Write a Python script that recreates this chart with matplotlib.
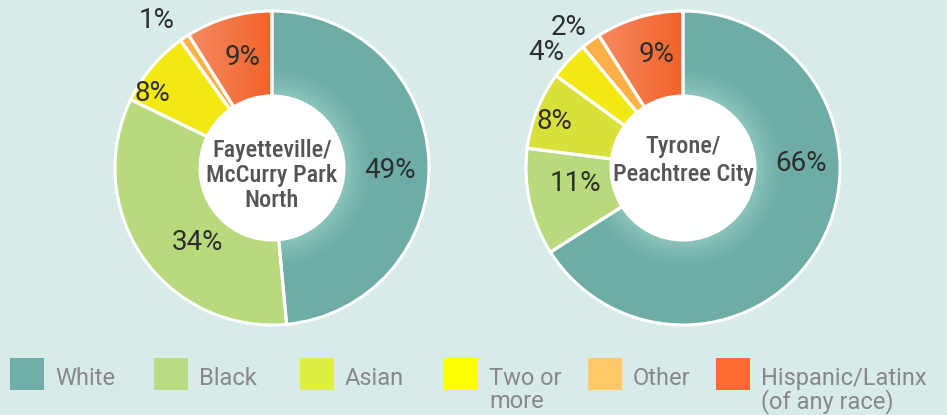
import numpy as np
import matplotlib
matplotlib.use("Agg")
import matplotlib.pyplot as plt
from matplotlib import font_manager
from matplotlib.patches import Circle, Wedge, Rectangle
from matplotlib.colors import to_rgb

# data
categories = ["White", "Black", "Asian", "Two or\nmore", "Other", "Hispanic/Latinx\n(of any race)"]
fayetteville = [49, 34, 0, 8, 1, 9]
tyrone = [66, 11, 8, 4, 2, 9]
titles = [["Fayetteville/", "McCurry Park", "North"], ["Tyrone/", "Peachtree City"]]

slice_colors = ["#6DADA5", "#B8D97C", "#D9E03A", "#F2E813", "#FDB045", "#F26B30"]
legend_colors = ["#6FAFA7", "#BADD83", "#DDEE44", "#FFFF00", "#FFC966", "#FF6B33"]
BG = "#D7EBE8"

# layout (pixels, y measured from top)
W, H = 947, 415
R, R_IN = 157, 72
centers = [(272, 168), (683, 168)]
# label placement: (angle in degrees, distance from centre in px)
label_pos = [
    [(-1, 118), (-135, 106), None, (148, 141), (128, 187), (105, 114)],
    [(2, 118), (-172, 109), (160, 137), (140, 179), (129, 181), (103, 116)],
]
title_baseline = [(157, 25), (153, 28)]

names = {f.name for f in font_manager.fontManager.ttflist}
def pick(*cands):
    for c in cands:
        if c in names:
            return c
    return "DejaVu Sans"

COND = pick("Liberation Sans Narrow", "Roboto Condensed", "DejaVu Sans Condensed", "DejaVu Sans")
MAIN = pick("Roboto", "Lato", "DejaVu Sans")

fig = plt.figure(figsize=(W / 100, H / 100), dpi=100)
fig.patch.set_facecolor(BG)
ax = fig.add_axes([0, 0, 1, 1])
ax.set_facecolor(BG)

for n, vals in enumerate([fayetteville, tyrone]):
    cx, cy = centers[n]
    Y = H - cy
    keep = [i for i, v in enumerate(vals) if v > 0]
    wedges, _ = ax.pie([vals[i] for i in keep], colors=[slice_colors[i] for i in keep],
                       startangle=90, counterclock=False, radius=R, center=(cx, Y),
                       wedgeprops=dict(width=R - R_IN, edgecolor="white", linewidth=0),
                       frame=True)
    wmap = dict(zip(keep, wedges))

    # soft glow on the white slice near the hole
    xs = np.linspace(cx - R, cx + R, 400)
    ys = np.linspace(Y - R, Y + R, 400)
    gx, gy = np.meshgrid(xs, ys)
    d = np.hypot(gx - cx, gy - Y)
    glow = np.zeros((400, 400, 4))
    glow[..., :3] = to_rgb("#A8DACF")
    glow[..., 3] = 0.55 * np.clip(1 - (d - R_IN) / 30, 0, 1) ** 1.3
    im = ax.imshow(glow, extent=(cx - R, cx + R, Y - R, Y + R), origin="lower", zorder=2)
    im.set_clip_path(wmap[0])

    # gradient on hispanic slice
    grad = np.zeros((2, 200, 3))
    c1, c2 = np.array(to_rgb("#F58A62")), np.array(to_rgb("#F26228"))
    t = np.linspace(0, 1, 200)[:, None]
    grad[:] = c1 + (c2 - c1) * t
    w5 = wmap[5]
    th2 = np.radians(w5.theta2)
    x0 = cx + R * np.cos(th2)
    im2 = ax.imshow(grad, extent=(x0, cx, Y, Y + R), origin="lower", zorder=2, aspect="auto")
    im2.set_clip_path(w5)

    # white borders on top
    for w in wedges:
        ax.add_patch(Wedge(w.center, w.r, w.theta1, w.theta2, width=w.width,
                           facecolor="none", edgecolor="white", linewidth=2.2, zorder=4))
    ax.add_patch(Circle((cx, Y), R_IN, facecolor="white", edgecolor="none", zorder=5))

    # percentage labels
    for i in keep:
        ang, dist = label_pos[n][i]
        a = np.radians(ang)
        ax.text(cx + dist * np.cos(a), Y + dist * np.sin(a), f"{vals[i]}%",
                ha="center", va="center", fontsize=20, family=MAIN, fontweight="normal",
                color="#2E2E2E", zorder=6)

    # centre title
    b0, step = title_baseline[n]
    for k, line in enumerate(titles[n]):
        ax.text(cx, H - (b0 + k * step), line, ha="center", va="baseline",
                fontsize=17.5, family=COND, fontweight="medium", fontstretch="condensed",
                color="#555555", zorder=6)

# legend
leg_x = [10, 154, 300, 444, 588, 716]
for i, lab in enumerate(categories):
    ax.add_patch(Rectangle((leg_x[i], H - 390), 34, 32, facecolor=legend_colors[i],
                           edgecolor="none", zorder=3))
    for k, line in enumerate(lab.split("\n")):
        ax.text(leg_x[i] + 45, H - (385 + k * 23), line, ha="left", va="baseline",
                fontsize=17, family=MAIN, color="#888888")

ax.set_xlim(0, W)
ax.set_ylim(0, H)
ax.set_aspect("equal")
ax.axis("off")

fig.savefig("out.png", dpi=100, facecolor=BG)
